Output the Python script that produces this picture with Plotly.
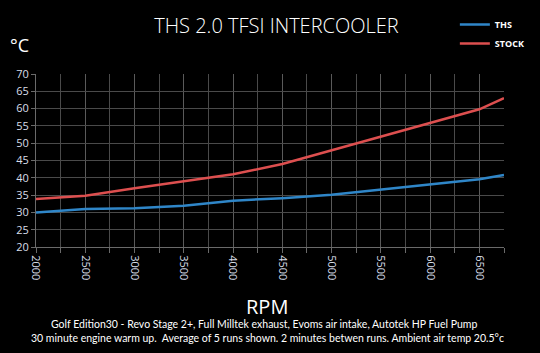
import plotly.graph_objects as go

rpm = [2000, 2500, 3000, 3500, 4000, 4500, 5000, 5500, 6000, 6500, 6750]
ths = [30.0, 31.0, 31.2, 31.9, 33.4, 34.1, 35.1, 36.6, 38.0, 39.6, 40.8]
stock = [33.9, 34.8, 37.0, 39.0, 41.0, 44.0, 48.0, 52.0, 55.9, 59.8, 63.0]
x_ticks = [2000, 2500, 3000, 3500, 4000, 4500, 5000, 5500, 6000, 6500]
y_ticks = [20, 25, 30, 35, 40, 45, 50, 55, 60, 65, 70]

title_text = "THS 2.0 TFSI INTERCOOLER"
unit_text = "°C"
x_title = "RPM"
note1 = "Golf Edition30 - Revo Stage 2+, Full Milltek exhaust, Evoms air intake, Autotek HP Fuel Pump"
note2 = "30 minute engine warm up.  Average of 5 runs shown. 2 minutes betwen runs. Ambient air temp 20.5°c"

fig = go.Figure()
fig.add_trace(go.Scatter(x=rpm, y=ths, mode="lines", name="THS",
                         line=dict(color="#2f86c8", width=2.5)))
fig.add_trace(go.Scatter(x=rpm, y=stock, mode="lines", name="STOCK",
                         line=dict(color="#dd4f4f", width=2.5)))

grid = "#4a4a4a"
fig.update_layout(
    width=540, height=353,
    paper_bgcolor="black", plot_bgcolor="black",
    margin=dict(l=36, r=10, t=66, b=106),
    font=dict(family="Open Sans", color="white"),
    title=dict(text=title_text, x=0.512, xanchor="center", y=0.925, yanchor="middle",
               font=dict(family="Open Sans", size=20, color="white", weight=300)),
    showlegend=True,
    legend=dict(x=0.895, y=1.37, xanchor="left", yanchor="top",
                bgcolor="rgba(0,0,0,0)", font=dict(family="Open Sans", size=9, color="white", weight="bold"),
                itemwidth=30),
    xaxis=dict(range=[2000, 6750], tickvals=x_ticks, ticktext=[str(v) for v in x_ticks],
               tickangle=90, tickfont=dict(size=11, color="#d8dee8"),
               showgrid=True, gridcolor="#5a5a5a", gridwidth=1,
               showline=True, linecolor="#6a6a6a", linewidth=1,
               ticks="outside", ticklen=5, tickcolor="#6a6a6a",
               minor=dict(dtick=250, tick0=2000, showgrid=True, gridcolor=grid,
                          ticks="outside", ticklen=5, tickcolor="#6a6a6a"),
               zeroline=False, mirror=False),
    yaxis=dict(range=[20, 70], tickvals=y_ticks, ticktext=[str(v) for v in y_ticks],
               tickfont=dict(size=11, color="#d8dee8"),
               showgrid=True, gridcolor=grid, gridwidth=1,
               showline=True, linecolor="#6a6a6a", linewidth=1,
               ticks="outside", ticklen=4, tickcolor="#6a6a6a",
               zeroline=False),
)

fig.add_annotation(text=unit_text, xref="paper", yref="paper", x=-0.035, y=1.17,
                   xanchor="center", yanchor="middle", showarrow=False,
                   font=dict(family="Open Sans", size=18, color="white"))
fig.add_annotation(text=x_title, xref="paper", yref="paper", x=0.494, y=-0.345,
                   xanchor="center", yanchor="middle", showarrow=False,
                   font=dict(family="Open Sans", size=20, color="white"))
fig.add_annotation(text=note1, xref="paper", yref="paper", x=0.487, y=-0.445,
                   xanchor="center", yanchor="middle", showarrow=False,
                   font=dict(family="Lato", size=10.5, color="white"))
fig.add_annotation(text=note2, xref="paper", yref="paper", x=0.494, y=-0.525,
                   xanchor="center", yanchor="middle", showarrow=False,
                   font=dict(family="Lato", size=10.5, color="white"))

fig.write_html("out.html")
